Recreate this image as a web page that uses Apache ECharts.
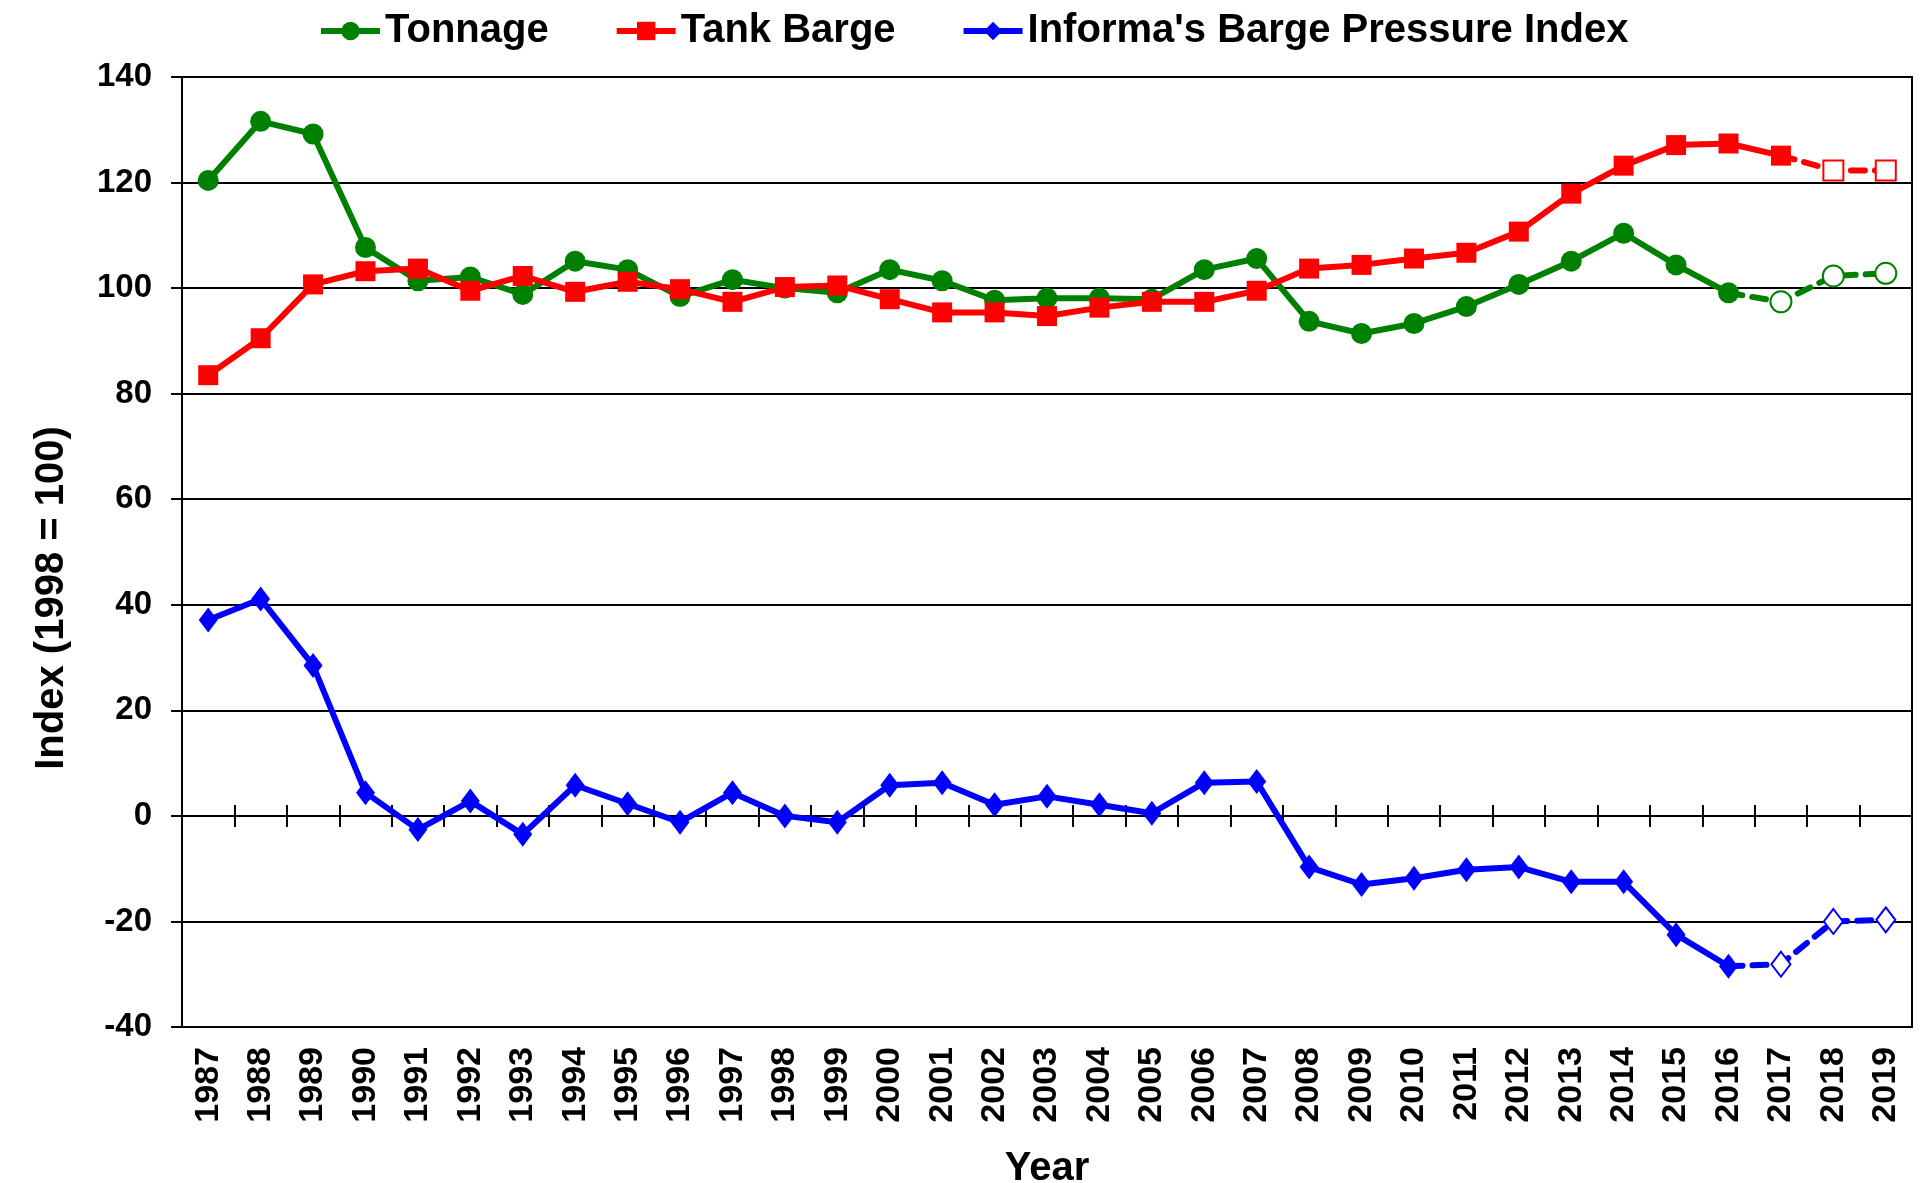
<!DOCTYPE html>
<html>
<head>
<meta charset="utf-8">
<title>Barge Pressure Index</title>
<script src="https://cdn.jsdelivr.net/npm/echarts@6/dist/echarts.min.js"></script>
<style>
    html, body { margin: 0; padding: 0; background: #fff; }
    #chart { width: 1921px; height: 1183px; }
</style>
</head>
<body>
<div id="chart"></div>
<script>
var years = ['1987', '1988', '1989', '1990', '1991', '1992', '1993', '1994', '1995', '1996',
    '1997', '1998', '1999', '2000', '2001', '2002', '2003', '2004', '2005', '2006',
    '2007', '2008', '2009', '2010', '2011', '2012', '2013', '2014', '2015', '2016',
    '2017', '2018', '2019'];

var tonnage = [120.4, 131.6, 129.2, 107.7, 101.4, 102.1, 98.8, 105.1, 103.5, 98.4,
    101.6, 100.0, 99.1, 103.5, 101.4, 97.7, 98.1, 98.1, 97.9, 103.5,
    105.6, 93.7, 91.4, 93.3, 96.5, 100.7, 105.1, 110.4, 104.4, 99.1,
    97.4, 102.3, 102.8];

var tankBarge = [83.5, 90.5, 100.7, 103.2, 103.7, 99.5, 102.3, 99.3, 101.2, 99.8,
    97.4, 100.2, 100.5, 97.9, 95.4, 95.4, 94.7, 96.3, 97.4, 97.4,
    99.5, 103.7, 104.4, 105.6, 106.7, 110.7, 117.9, 123.2, 127.1, 127.4,
    125.1, 122.3, 122.3];

var pressureIndex = [37.1, 41.1, 28.5, 4.4, -2.6, 2.8, -3.5, 5.8, 2.3, -1.2,
    4.4, 0.0, -1.2, 5.8, 6.3, 2.1, 3.7, 2.1, 0.5, 6.3,
    6.5, -9.7, -13.0, -11.8, -10.2, -9.7, -12.5, -12.5, -22.5, -28.5,
    -28.1, -20.0, -19.7];

// last year with actual data (after it the values are projections, dashed)
var lastTonnage = 29;   // 2016
var lastTank = 30;      // 2017
var lastPressure = 29;  // 2016

var yTicks = { min: -40, max: 140, step: 20 };

var FONT = '"Liberation Sans", Arial, sans-serif';

function solidPart(values, last) {
    return values.map(function (v, i) { return i <= last ? v : null; });
}

function dashedPart(values, last) {
    return values.map(function (v, i) {
        if (i < last) return null;
        if (i == last) return { value: v, symbol: 'none' };
        return v;
    });
}

function makeSeries(name, color, symbol, emptySymbol, size, values, last) {
    return [{
        name: name,
        type: 'line',
        data: solidPart(values, last),
        symbol: symbol,
        symbolSize: size,
        showAllSymbol: true,
        color: color,
        lineStyle: { width: 6, color: color },
        itemStyle: { color: color },
        z: 4
    }, {
        name: name + ' (projected)',
        type: 'line',
        data: dashedPart(values, last),
        symbol: emptySymbol,
        symbolSize: size,
        showAllSymbol: true,
        color: color,
        lineStyle: { width: 6, color: color, type: [14, 10], cap: 'round' },
        itemStyle: { color: color },
        z: 3
    }];
}

var series = [].concat(
    makeSeries('Tonnage', '#008000', 'circle', 'emptyCircle', 21, tonnage, lastTonnage),
    makeSeries('Tank Barge', '#ff0000', 'rect', 'emptyRect', 20, tankBarge, lastTank),
    makeSeries("Informa's Barge Pressure Index", '#0000ff', 'diamond', 'emptyDiamond', [19, 25], pressureIndex, lastPressure)
);

var myChart = echarts.init(document.getElementById('chart'));

var option = {
    backgroundColor: '#ffffff',
    animation: false,
    textStyle: { fontFamily: FONT },
    legend: {
        data: ['Tonnage', 'Tank Barge', "Informa's Barge Pressure Index"],
        left: 313,
        top: 6,
        itemWidth: 59,
        itemHeight: 23,
        itemGap: 65,
        lineStyle: { width: 6 },
        textStyle: { fontFamily: FONT, fontSize: 40, fontWeight: 'bold', color: '#000' }
    },
    grid: {
        left: 182,
        right: 9,
        top: 77,
        bottom: 156,
        outerBoundsMode: 'none',
        containLabel: false,
        show: true,
        borderColor: '#000',
        borderWidth: 2,
        backgroundColor: 'transparent'
    },
    xAxis: [{
        type: 'category',
        data: years,
        position: 'bottom',
        boundaryGap: true,
        axisLine: { onZero: false, lineStyle: { color: '#000', width: 2 } },
        axisTick: { show: false },
        axisLabel: {
            interval: 0, rotate: 90, margin: 20,
            fontFamily: FONT, fontSize: 34, fontWeight: 'bold', color: '#000'
        },
        splitLine: { show: false },
        name: 'Year',
        nameLocation: 'middle',
        nameGap: 122,
        nameTextStyle: { fontFamily: FONT, fontSize: 40, fontWeight: 'bold', color: '#000' }
    }, {
        // tick marks crossing the zero line (upper half)
        type: 'category',
        data: years,
        position: 'bottom',
        axisLine: { show: false, onZero: true, onZeroAxisIndex: 0 },
        axisTick: { show: true, inside: true, interval: 0, length: 11, lineStyle: { color: '#000', width: 2 } },
        axisLabel: { show: false },
        splitLine: { show: false }
    }, {
        // lower half
        type: 'category',
        data: years,
        position: 'bottom',
        axisLine: { show: false, onZero: true, onZeroAxisIndex: 0 },
        axisTick: { show: true, inside: false, interval: 0, length: 11, lineStyle: { color: '#000', width: 2 } },
        axisLabel: { show: false },
        splitLine: { show: false }
    }],
    yAxis: {
        type: 'value',
        min: yTicks.min,
        max: yTicks.max,
        interval: yTicks.step,
        axisLine: { show: true, onZero: false, lineStyle: { color: '#000', width: 2 } },
        axisTick: { show: true, length: 11, lineStyle: { color: '#000', width: 2 } },
        axisLabel: { margin: 30, fontFamily: FONT, fontSize: 33, fontWeight: 'bold', color: '#000' },
        splitLine: { show: true, lineStyle: { color: '#000', width: 2 } },
        name: 'Index (1998 = 100)',
        nameLocation: 'middle',
        nameGap: 110,
        nameTextStyle: {
            fontFamily: FONT, fontSize: 40, fontWeight: 'bold', color: '#000',
            padding: [0, 92, 0, 0]
        }
    },
    series: series
};

myChart.setOption(option);
</script>
</body>
</html>
